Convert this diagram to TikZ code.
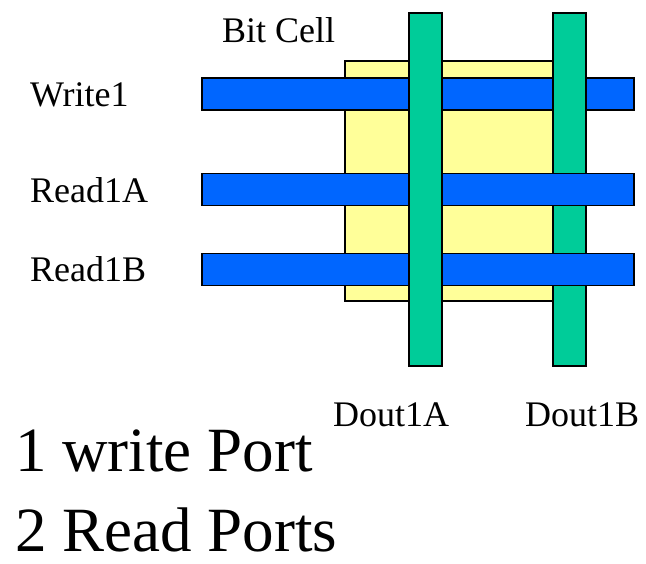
\documentclass[tikz,border=0pt]{standalone}
\usepackage{fontspec}
\setmainfont{Liberation Serif}
\definecolor{wireblue}{RGB}{0,102,255}
\definecolor{wiregreen}{RGB}{0,204,153}
\definecolor{cellyellow}{RGB}{255,255,153}
\tikzset{
  plate/.style={draw=black, line width=1.3pt, inner sep=0pt, outer sep=0pt,
    minimum width=#1},
  wordline/.style={plate=432pt, fill=wireblue, minimum height=32pt},
  bitline/.style={plate=33pt, fill=wiregreen, minimum height=353pt},
  cellbox/.style={plate=208pt, fill=cellyellow, minimum height=240pt},
  lbl/.style={inner sep=0pt, anchor=base west, font=\fontsize{36}{40}\selectfont},
  biglbl/.style={inner sep=0pt, anchor=base west, font=\fontsize{63}{70}\selectfont}
}
\begin{document}
\begin{tikzpicture}[x=1pt, y=-1pt]
  \useasboundingbox (0,0) rectangle (646,564);
  % bit cell area
  \node[cellbox] (cell) at (449,181) {};
  % write word line sits under both bit lines
  \node[wordline] (w1) at (418,94) {};
  \node[bitline] (db) at (569.5,189.5) {};
  % read word lines cross over the right bit line
  \node[wordline] (ra) at (418,189.5) {};
  \node[wordline] (rb) at (418,269.5) {};
  \node[bitline] (da) at (425.5,189.5) {};
  % labels
  \node[lbl] (tcell) at (222,43) {Bit Cell};
  \node[lbl] (tw1) at (30,107) {Write1};
  \node[lbl] (tra) at (30,203) {Read1A};
  \node[lbl] (trb) at (30,282) {Read1B};
  \node[lbl] (tda) at (333,427) {Dout1A};
  \node[lbl] (tdb) at (525,427) {Dout1B};
  \node[biglbl] (t1) at (15,471) {1 write Port};
  \node[biglbl] (t2) at (15,551) {2 Read Ports};
\end{tikzpicture}
\end{document}
